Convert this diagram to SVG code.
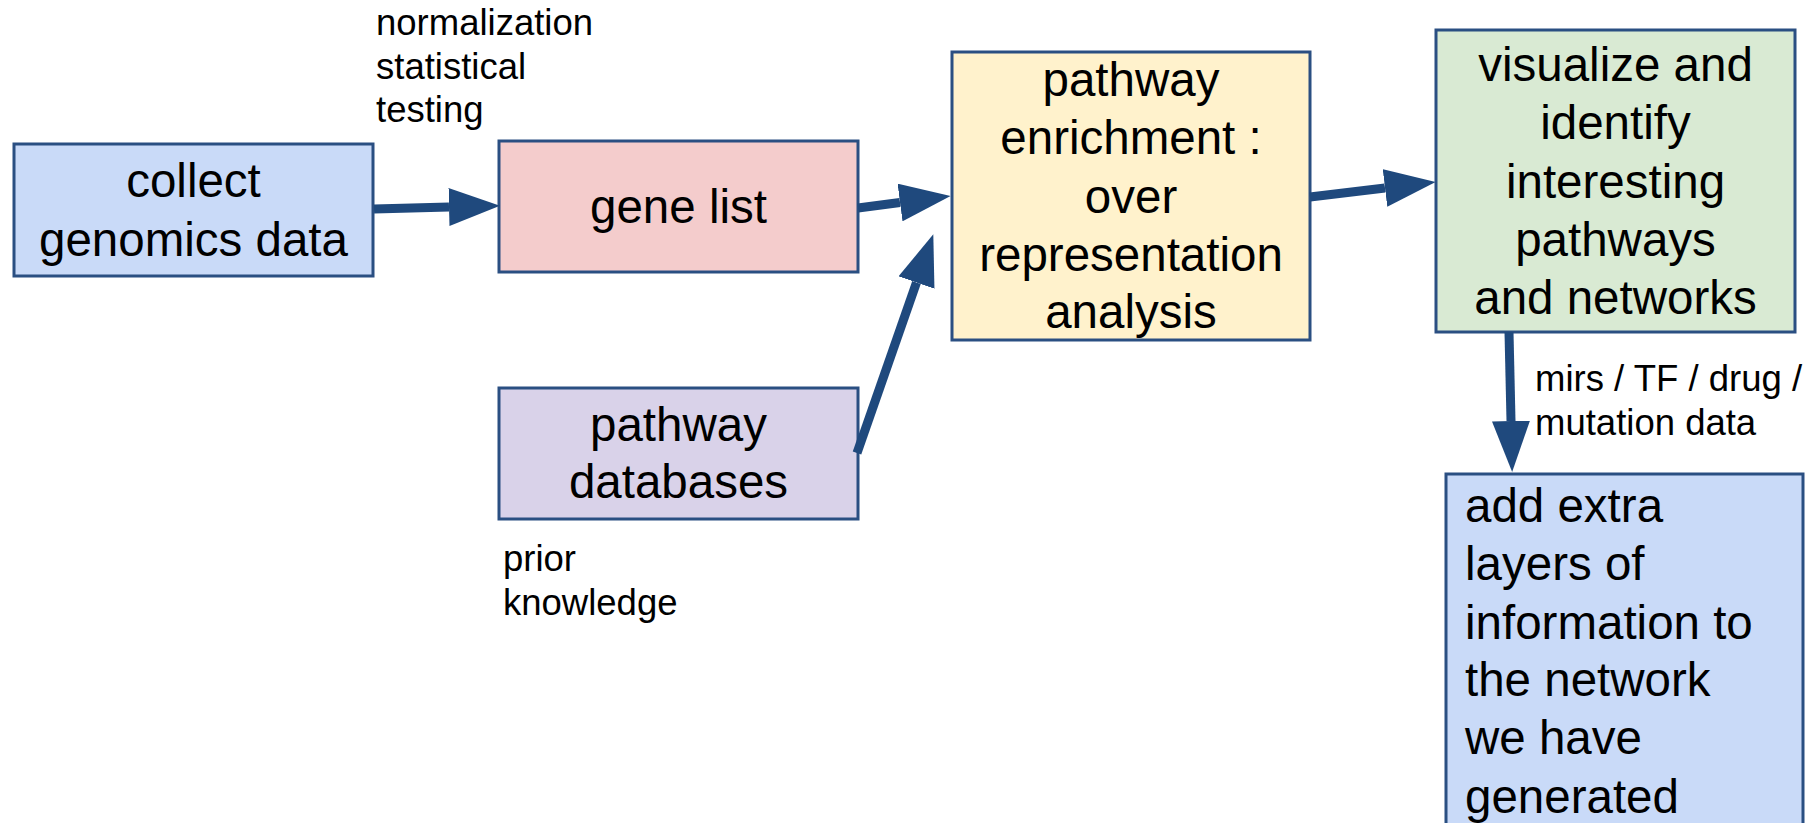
<svg xmlns="http://www.w3.org/2000/svg" width="1819" height="823" viewBox="0 0 1819 823">
<defs>
<style>
.box{stroke:#2a4f82;stroke-width:3}
.big{font-family:"Liberation Sans",Arial,sans-serif;font-size:47.5px;fill:#000}
.mid{text-anchor:middle}
.small{font-family:"Liberation Sans",Arial,sans-serif;font-size:36.5px;fill:#000}
.conn{stroke:#1f497d;stroke-width:9;fill:none;marker-end:url(#ah)}
</style>
<marker id="ah" markerUnits="userSpaceOnUse" markerWidth="51" markerHeight="38" viewBox="0 0 51 38" refX="0" refY="19" orient="auto">
<path d="M0,0 L51,19 L0,38 z" fill="#1f497d"/>
</marker>
</defs>
<rect width="1819" height="823" fill="#fff"/>

<g id="collect">
<rect class="box" x="14" y="144" width="359" height="132" fill="#c9daf8"/>
<text class="big mid" x="193.5" y="197">collect</text>
<text class="big mid" x="193.5" y="256">genomics data</text>
</g>

<g id="gene-list">
<rect class="box" x="499" y="141" width="359" height="131" fill="#f4cccc"/>
<text class="big mid" x="678.5" y="223">gene list</text>
</g>

<g id="pathway-databases">
<rect class="box" x="499" y="388" width="359" height="131" fill="#d9d2e9"/>
<text class="big mid" x="678.5" y="441">pathway</text>
<text class="big mid" x="678.5" y="498">databases</text>
</g>

<g id="enrichment">
<rect class="box" x="952" y="52" width="358" height="288" fill="#fff2cc"/>
<text class="big mid" x="1131" y="96">pathway</text>
<text class="big mid" x="1131" y="154">enrichment :</text>
<text class="big mid" x="1131" y="213">over</text>
<text class="big mid" x="1131" y="271">representation</text>
<text class="big mid" x="1131" y="328">analysis</text>
</g>

<g id="visualize">
<rect class="box" x="1436" y="30" width="359" height="302" fill="#d9ead3"/>
<text class="big mid" x="1615.5" y="81">visualize and</text>
<text class="big mid" x="1615.5" y="139">identify</text>
<text class="big mid" x="1615.5" y="198">interesting</text>
<text class="big mid" x="1615.5" y="256">pathways</text>
<text class="big mid" x="1615.5" y="314">and networks</text>
</g>

<g id="add-layers">
<rect class="box" x="1446" y="474" width="357" height="360" fill="#c9daf8"/>
<text class="big" x="1465" y="522">add extra</text>
<text class="big" x="1465" y="580">layers of</text>
<text class="big" x="1465" y="639">information to</text>
<text class="big" x="1465" y="696">the network</text>
<text class="big" x="1465" y="754">we have</text>
<text class="big" x="1465" y="813">generated</text>
</g>

<g id="labels">
<text class="small" x="376" y="35">normalization</text>
<text class="small" x="376" y="79">statistical</text>
<text class="small" x="376" y="122">testing</text>
<text class="small" x="503" y="571">prior</text>
<text class="small" x="503" y="615">knowledge</text>
<text class="small" x="1535" y="391">mirs / TF / drug /</text>
<text class="small" x="1535" y="435">mutation data</text>
</g>

<g id="connectors">
<path class="conn" d="M374,209 L449,207"/>
<path class="conn" d="M858,208 L900,202.5"/>
<path class="conn" d="M857,453 L916.5,282.5"/>
<path class="conn" d="M1310,197 L1385,188"/>
<path class="conn" d="M1509,332 L1511,421"/>
</g>
</svg>
